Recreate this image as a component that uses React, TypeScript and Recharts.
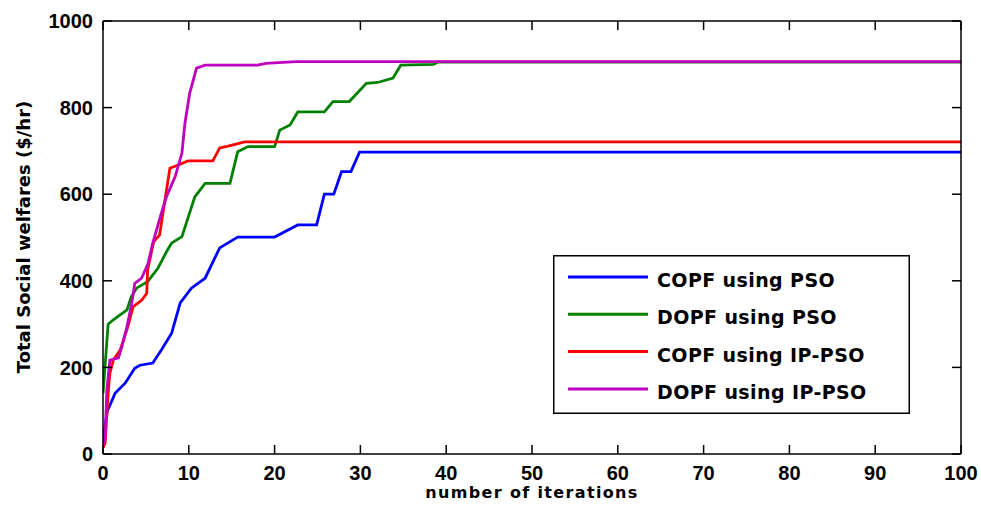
import { LineChart, Line, XAxis, YAxis, Legend } from "recharts";

// Convergence of total social welfare vs. iteration count.
type Pt = [number, number];

const xTicks = [0, 10, 20, 30, 40, 50, 60, 70, 80, 90, 100];
const yTicks = [0, 200, 400, 600, 800, 1000];

const copfPso: Pt[] = [
  [0, 15], [0.2, 60], [0.5, 100], [0.8, 112], [1.4, 140], [2.6, 164], [3.7, 198],
  [4.3, 205], [5.8, 210], [6.8, 240], [8.0, 279], [9.0, 349], [10.3, 383], [11.9, 406],
  [13.6, 476], [15.7, 501], [20.0, 501], [22.7, 529], [24.9, 529], [25.8, 600], [26.9, 600],
  [27.8, 652], [28.9, 652], [29.9, 697], [100, 697],
];

const dopfPso: Pt[] = [
  [0, 140], [0.3, 220], [0.6, 300], [1.2, 310], [2.8, 333], [3.3, 363], [3.9, 383],
  [5.2, 398], [6.4, 429], [7.4, 467], [8.0, 487], [9.2, 502], [10.7, 594], [11.9, 625],
  [14.8, 625], [15.7, 698], [16.9, 710], [20.0, 710], [20.6, 748], [21.8, 760], [22.7, 790],
  [25.8, 790], [26.8, 814], [28.7, 814], [30.7, 856], [32.0, 858], [33.8, 868], [34.7, 898],
  [38.5, 900], [39.0, 905], [100, 905],
];

const copfIpPso: Pt[] = [
  [0, 15], [0.25, 25], [0.6, 140], [0.8, 187], [1.2, 217], [2.0, 240], [2.9, 294],
  [3.5, 340], [4.5, 355], [5.1, 371], [5.2, 425], [5.9, 490], [6.6, 506], [7.4, 610],
  [7.8, 660], [8.7, 667], [9.9, 677], [12.8, 677], [13.6, 707], [14.6, 711], [16.5, 721],
  [100, 721],
];

const dopfIpPso: Pt[] = [
  [0, 20], [0.25, 40], [0.45, 148], [0.8, 217], [1.8, 222], [2.2, 248], [2.8, 294],
  [3.35, 348], [3.7, 394], [4.5, 406], [5.25, 440], [5.8, 487], [6.8, 556], [7.4, 594],
  [8.4, 640], [9.2, 695], [9.55, 764], [10.1, 833], [10.9, 891], [11.9, 898], [18.0, 898],
  [19.0, 902], [22.5, 906], [100, 906],
];

const SERIES = [
  { name: "COPF using PSO", color: "#0000ff", pts: copfPso },
  { name: "DOPF using PSO", color: "#008000", pts: dopfPso },
  { name: "COPF using IP-PSO", color: "#ff0000", pts: copfIpPso },
  { name: "DOPF using IP-PSO", color: "#bf00bf", pts: dopfIpPso },
];

const toRows = (pts: Pt[]) => pts.map(([x, y]) => ({ x, y }));

const tickFont = {
  fill: "#000",
  fontSize: 20,
  fontWeight: 700,
  fontFamily: "Liberation Sans, Arial, sans-serif",
};
const labelFont = "DejaVu Sans, Verdana, sans-serif";
const AX = "#000";

function LegendBox() {
  return (
    <svg width={357} height={159} style={{ display: "block" }}>
      <rect x={0.75} y={0.75} width={355.5} height={157.5} fill="#fff" stroke="#000" strokeWidth={1.5} />
      {SERIES.map((s, i) => {
        const cy = 22 + i * 37.3;
        return (
          <g key={s.name}>
            <line x1={15} x2={95} y1={cy} y2={cy} stroke={s.color} strokeWidth={3} />
            <text
              x={104}
              y={cy + 10}
              fontFamily={labelFont}
              fontWeight={700}
              fontSize={19}
              letterSpacing={0.4}
              fill="#000"
            >
              {s.name}
            </text>
          </g>
        );
      })}
    </svg>
  );
}

// inward tick marks on all four sides (matlab box style)
const inward = {
  mirror: true,
  tickSize: 9,
  interval: 0 as const,
  allowDataOverflow: true,
  axisLine: false,
  tickLine: { stroke: AX, strokeWidth: 1.5 },
  tick: { fontSize: 1, fill: "none" },
  tickFormatter: () => " ",
};

export default function App() {
  return (
    <div style={{ position: "absolute", left: 0, top: 0, width: 981, height: 507, background: "#fff" }}>
      <LineChart width={981} height={507} margin={{ top: 21, right: 20, bottom: 0, left: 0 }}>
        <XAxis
          xAxisId="b"
          type="number"
          dataKey="x"
          domain={[0, 100]}
          ticks={xTicks}
          interval={0}
          allowDataOverflow
          height={53}
          tickSize={0}
          tickLine={false}
          tickMargin={12}
          stroke={AX}
          strokeWidth={1.5}
          tick={tickFont}
          label={() => (
            <text
              x={532}
              y={498}
              textAnchor="middle"
              fontFamily={labelFont}
              fontWeight={700}
              fontSize={16}
              letterSpacing={1.35}
              fill="#000"
            >
              number of iterations
            </text>
          )}
        />
        <XAxis xAxisId="bm" type="number" dataKey="x" domain={[0, 100]} ticks={xTicks} height={1} {...inward} />
        <XAxis
          xAxisId="t"
          orientation="top"
          type="number"
          dataKey="x"
          domain={[0, 100]}
          ticks={xTicks}
          height={1}
          {...inward}
          axisLine={{ stroke: AX, strokeWidth: 1.5 }}
        />
        <YAxis
          yAxisId="l"
          type="number"
          domain={[0, 1000]}
          ticks={yTicks}
          interval={0}
          allowDataOverflow
          width={103}
          tickSize={0}
          tickLine={false}
          tickMargin={10}
          stroke={AX}
          strokeWidth={1.5}
          tick={tickFont}
          label={() => (
            <text
              x={30}
              y={237}
              transform="rotate(-90 30 237)"
              textAnchor="middle"
              fontFamily={labelFont}
              fontWeight={700}
              fontSize={18}
              fill="#000"
            >
              Total Social welfares ($/hr)
            </text>
          )}
        />
        <YAxis yAxisId="lm" type="number" domain={[0, 1000]} ticks={yTicks} width={1} {...inward} />
        <YAxis
          yAxisId="r"
          orientation="right"
          type="number"
          domain={[0, 1000]}
          ticks={yTicks}
          width={1}
          {...inward}
          axisLine={{ stroke: AX, strokeWidth: 1.5 }}
        />
        {SERIES.map((s) => (
          <Line
            key={s.name}
            xAxisId="b"
            yAxisId="l"
            data={toRows(s.pts)}
            dataKey="y"
            name={s.name}
            type="linear"
            stroke={s.color}
            strokeWidth={2.8}
            dot={false}
            activeDot={false}
            isAnimationActive={false}
          />
        ))}
        <Legend
          layout="horizontal"
          verticalAlign="middle"
          align="center"
          wrapperStyle={{ position: "absolute", left: 553, top: 255, width: 357, height: 159 }}
          content={() => <LegendBox />}
        />
      </LineChart>
    </div>
  );
}
